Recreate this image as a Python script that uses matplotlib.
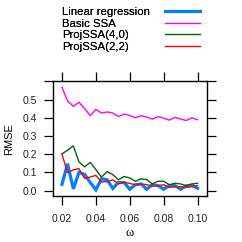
import matplotlib
matplotlib.use("Agg")
import matplotlib.pyplot as plt
from matplotlib.lines import Line2D

omega = [0.0200, 0.0233, 0.0267, 0.0300, 0.0333, 0.0367, 0.0400, 0.0433, 0.0467,
         0.0500, 0.0533, 0.0567, 0.0600, 0.0633, 0.0667, 0.0700, 0.0733, 0.0767,
         0.0800, 0.0833, 0.0867, 0.0900, 0.0933, 0.0967, 0.1000]

linear_regression = [0.035, 0.148, 0.010, 0.100, 0.090, 0.045, 0.005, 0.065, 0.060,
                     0.012, 0.045, 0.045, 0.008, 0.033, 0.037, 0.008, 0.033, 0.028,
                     0.008, 0.028, 0.028, 0.008, 0.026, 0.030, 0.013]
basic_ssa = [0.567, 0.493, 0.463, 0.485, 0.452, 0.411, 0.446, 0.426, 0.432, 0.426,
             0.407, 0.420, 0.413, 0.400, 0.411, 0.404, 0.393, 0.406, 0.398, 0.387,
             0.402, 0.393, 0.385, 0.400, 0.389]
projssa_40 = [0.202, 0.222, 0.246, 0.158, 0.131, 0.155, 0.116, 0.075, 0.105, 0.088,
              0.060, 0.078, 0.070, 0.052, 0.065, 0.061, 0.037, 0.052, 0.052, 0.033,
              0.041, 0.037, 0.028, 0.037, 0.041]
projssa_22 = [0.200, 0.099, 0.115, 0.121, 0.068, 0.075, 0.084, 0.048, 0.050, 0.060,
              0.038, 0.046, 0.040, 0.033, 0.037, 0.033, 0.026, 0.028, 0.033, 0.018,
              0.022, 0.022, 0.018, 0.022, 0.028]

labels = ["Linear regression", "Basic SSA", "ProjSSA(4,0)", "ProjSSA(2,2)"]
colors = ["#0080FF", "#FF00FF", "#006400", "#FF0000"]
widths = [2.3, 1.0, 1.0, 1.0]
series = [linear_regression, basic_ssa, projssa_40, projssa_22]

xticks = [0.02, 0.04, 0.06, 0.08, 0.10]
xtick_labels = ["0.02", "0.04", "0.06", "0.08", "0.10"]
yticks = [0.0, 0.1, 0.2, 0.3, 0.4, 0.5, 0.6]
ytick_labels = ["0.0", "0.1", "0.2", "0.3", "0.4", "0.5", ""]

plt.rcParams['font.family'] = ['Liberation Sans', 'DejaVu Sans']

W = 242
fig = plt.figure(figsize=(2.42, 2.42), dpi=100)
ax = fig.add_axes([53 / W, 1 - 196 / W, 154 / W, 114.7 / W])

handles = []
for ys, c, lw, lab in zip(series, colors, widths, labels):
    h, = ax.plot(omega, ys, color=c, lw=lw, label=lab, solid_joinstyle='miter')
    handles.append(h)

ax.set_xlim(0.0147, 0.1056)
ax.set_ylim(-0.029, 0.6)
ax.set_xticks(xticks)
ax.set_xticklabels(xtick_labels)
ax.set_yticks(yticks)
ax.set_yticklabels(ytick_labels)
ax.tick_params(axis='both', which='both', direction='out', length=6.3, width=0.9,
               labelsize=7.5, colors='black', labelcolor='#222222',
               top=True, right=True, labeltop=False, labelright=False)
ax.tick_params(axis='x', pad=6.5)
ax.tick_params(axis='y', pad=5)
for s in ax.spines.values():
    s.set_linewidth(1.0)
    s.set_color('black')

ax.set_ylabel("RMSE", fontsize=8, labelpad=6)
ax.set_xlabel("ω", fontsize=9, family=['Liberation Serif', 'DejaVu Serif'], labelpad=2)

fs = 8.2
lsp = 0.14
top_y = 1 - 7 / W
# text column (left aligned)
leg_text = fig.legend(handles=[Line2D([], [], lw=0) for _ in labels], labels=labels,
                      loc='upper left', bbox_to_anchor=(62 / W, top_y), frameon=False,
                      fontsize=fs, handlelength=0, handletextpad=0, labelspacing=lsp,
                      borderpad=0.0, borderaxespad=0.0)
# line samples column
leg_lines = fig.legend(handles=handles, labels=[" "] * len(labels), loc='upper left',
                       bbox_to_anchor=(165 / W, top_y), frameon=False,
                       fontsize=fs, handlelength=35 / fs * 72 / 100, handletextpad=0,
                       labelspacing=lsp, borderpad=0.0, borderaxespad=0.0)
fig.add_artist(leg_text)

fig.savefig("out.png", dpi=100)
